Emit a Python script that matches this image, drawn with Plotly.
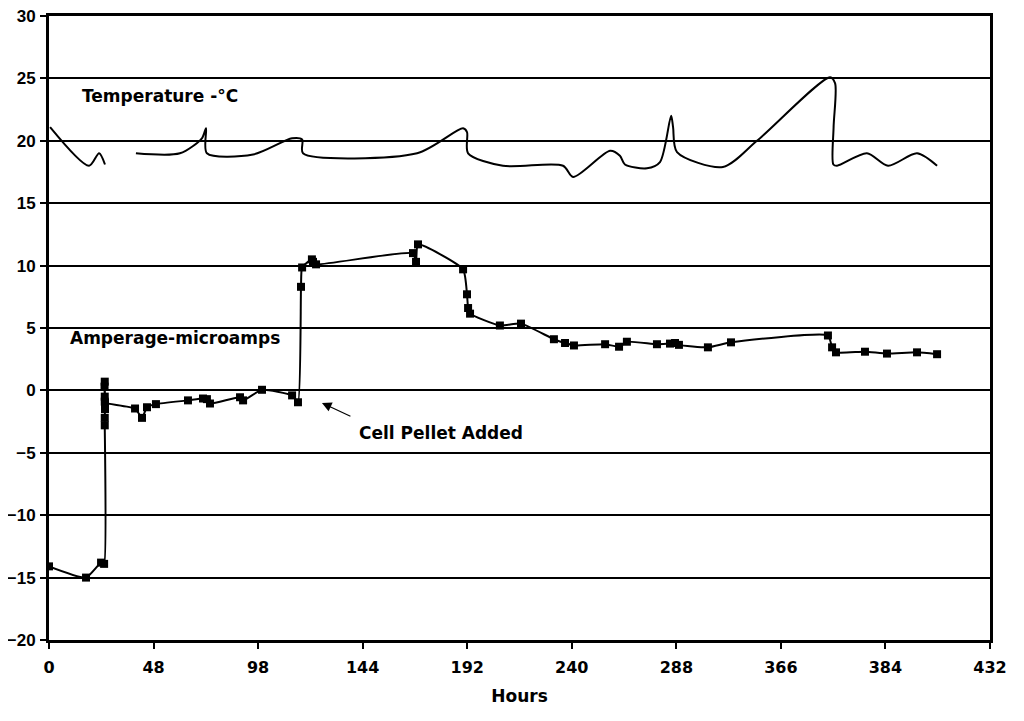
import plotly.graph_objects as go

# amperage readings (microamps) against hours
amp_hours = [0.0, 17.0, 23.9, 25.3, 25.6, 25.6, 25.7, 25.6, 25.5, 25.6, 25.6, 25.7,
             39.5, 42.7, 45.0, 49.1, 63.8, 70.7, 72.5, 73.9, 87.7, 89.1, 97.8,
             111.6, 114.3, 115.7, 116.2, 120.7, 121.2, 122.6,
             167.1, 168.5, 169.4, 190.1, 191.9, 192.4, 193.3, 207.0, 216.7,
             231.8, 236.9, 241.0, 255.3, 261.7, 265.3, 279.1, 285.1, 287.4, 289.2,
             302.5, 313.1, 357.6, 359.5, 361.3, 374.6, 384.7, 398.5, 407.7]
amp_values = [-14.1, -15.0, -13.8, -13.9, -2.8, -2.2, -1.5, 0.7, 0.3, -0.5, -0.9, -1.0,
              -1.45, -2.2, -1.35, -1.1, -0.8, -0.65, -0.7, -1.05, -0.55, -0.8, 0.05,
              -0.4, -0.95, 8.3, 9.85, 10.5, 10.3, 10.1,
              11.0, 10.3, 11.7, 9.7, 7.7, 6.6, 6.15, 5.2, 5.35,
              4.1, 3.8, 3.6, 3.7, 3.5, 3.9, 3.7, 3.75, 3.8, 3.65,
              3.45, 3.85, 4.4, 3.45, 3.05, 3.1, 2.95, 3.05, 2.9]

# temperature trace (deg C), None marks the break in the record
temp_hours = [0.5, 18.4, 23.0, 25.7, None,
              39.9, 60.1, 70.2, 72.1, 72.5, 93.7, 111.6, 116.2, 116.6,
              169.0, 190.1, 191.9, 192.4, 208.4, 236.0, 240.6, 257.6, 262.1,
              264.4, 274.5, 280.5, 285.6, 286.5, 288.3, 309.4, 325.0, 358.6,
              360.9, 360.2, 360.1, 361.8, 375.5, 385.2, 398.5, 407.7]
temp_values = [21.1, 18.0, 19.0, 18.1, None,
               19.0, 19.0, 20.2, 21.0, 19.0, 18.9, 20.2, 20.1, 19.0,
               19.0, 21.0, 20.7, 19.0, 18.0, 18.0, 17.1, 19.2, 18.8,
               18.1, 17.8, 18.3, 22.0, 21.1, 19.1, 17.9, 20.0, 25.1,
               24.6, 21.1, 18.1, 18.0, 19.0, 18.0, 19.0, 18.0]

tick_hours = [0, 48, 96, 144, 192, 240, 288, 336, 384, 432]
tick_labels = ["0", "48", "98", "144", "192", "240", "288", "366", "384", "432"]

font = dict(family="DejaVu Sans, Arial, sans-serif", size=17, color="black", weight="bold")
xtick_font = dict(family="DejaVu Sans, Arial, sans-serif", size=16, color="black", weight="bold")
ytick_font = dict(family="Liberation Sans", size=17, color="black", weight="bold")

fig = go.Figure()

fig.add_trace(go.Scatter(
    x=temp_hours,
    y=temp_values,
    mode="lines",
    line=dict(color="black", width=2, shape="spline", smoothing=0.8),
    connectgaps=False,
    showlegend=False
))

fig.add_trace(go.Scatter(
    x=amp_hours,
    y=amp_values,
    mode="lines+markers",
    line=dict(color="black", width=2, shape="spline", smoothing=0.5),
    marker=dict(symbol="square", size=8, color="black"),
    showlegend=False
))

fig.add_annotation(x=14, y=23.6, xanchor="left", text="Temperature -°C",
                   showarrow=False, font=font)
fig.add_annotation(x=8.5, y=4.2, xanchor="left", text="Amperage-microamps",
                   showarrow=False, font=font)
fig.add_annotation(x=125.3, y=-1.0, ax=30, ay=14, text="", showarrow=True,
                   arrowhead=2, arrowsize=1.6, arrowwidth=1.2, arrowcolor="black")
fig.add_annotation(x=141.5, y=-3.4, xanchor="left", text="Cell Pellet Added",
                   showarrow=False, font=font)

# page body adds 8px around the figure, margins take that into account
fig.update_layout(
    width=1024,
    height=721,
    margin=dict(l=41, r=42, t=8, b=89),
    plot_bgcolor="white",
    paper_bgcolor="white",
    font=font,
    xaxis=dict(
        range=[0, 432],
        tickvals=tick_hours,
        ticktext=tick_labels,
        tickfont=xtick_font,
        ticks="outside",
        ticklen=6,
        tickwidth=2,
        tickcolor="black",
        ticklabelstandoff=5,
        showline=True,
        linecolor="black",
        linewidth=3,
        mirror=True,
        showgrid=False,
        zeroline=False,
        automargin=False,
        title=dict(text="Hours", font=font, standoff=14)
    ),
    yaxis=dict(
        range=[-20, 30],
        dtick=5,
        tickfont=ytick_font,
        ticks="outside",
        ticklen=6,
        tickwidth=2,
        tickcolor="black",
        ticklabelstandoff=1,
        ticklabeloverflow="allow",
        showline=True,
        linecolor="black",
        linewidth=3,
        mirror=True,
        showgrid=True,
        gridcolor="black",
        gridwidth=2,
        zeroline=False,
        automargin=False
    )
)

fig.write_html("out.html")
